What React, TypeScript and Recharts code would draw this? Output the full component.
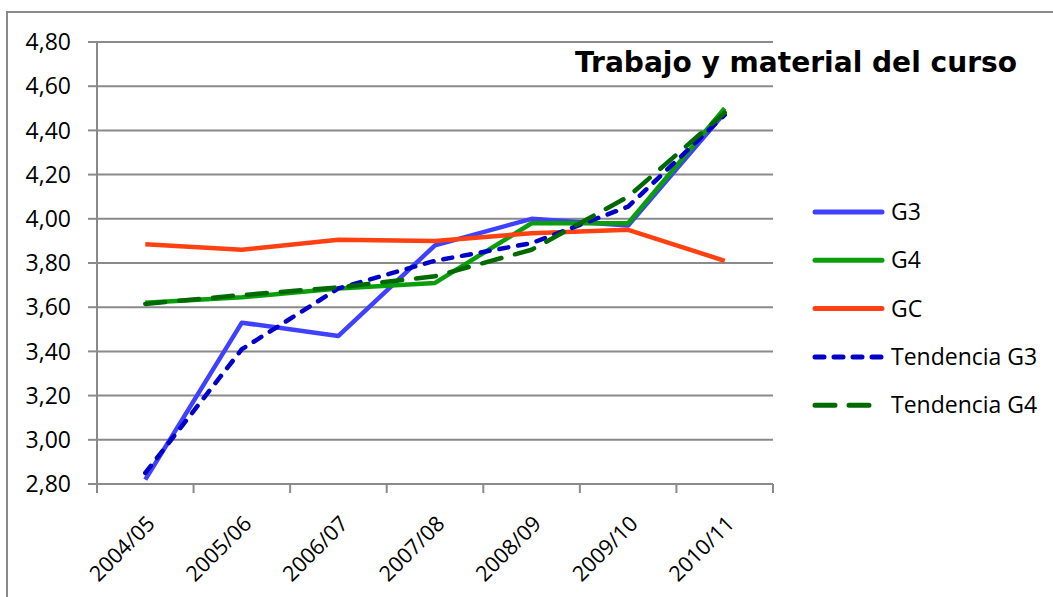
import React from 'react';
import {
  LineChart,
  Line,
  XAxis,
  YAxis,
  CartesianGrid,
  Legend,
} from 'recharts';

// cursos académicos (eje X)
const cursos = ['2004/05', '2005/06', '2006/07', '2007/08', '2008/09', '2009/10', '2010/11'];

// valores
const g3 = [2.82, 3.53, 3.47, 3.88, 4.0, 3.97, 4.48];
const g4 = [3.62, 3.645, 3.685, 3.71, 3.98, 3.98, 4.5];
const gc = [3.885, 3.86, 3.905, 3.9, 3.935, 3.95, 3.81];
const tendG3 = [2.85, 3.41, 3.685, 3.81, 3.89, 4.055, 4.47];
const tendG4 = [3.615, 3.655, 3.69, 3.74, 3.86, 4.1, 4.48];

const yTicks = [2.8, 3.0, 3.2, 3.4, 3.6, 3.8, 4.0, 4.2, 4.4, 4.6, 4.8];

// ticks del eje X: límites de categoría (x.5) + centros (enteros)
const xTicks = [-0.5, 0, 0.5, 1, 1.5, 2, 2.5, 3, 3.5, 4, 4.5, 5, 5.5, 6, 6.5];

const GRID = '#8a8a8a';
const FONT = '"Open Sans", "Noto Sans", sans-serif';

type Serie = { key: string; name: string; color: string; dash?: string; width: number };

const series: Serie[] = [
  { key: 'G3', name: 'G3', color: '#4040ff', width: 4.5 },
  { key: 'G4', name: 'G4', color: '#0a9e0a', width: 4.5 },
  { key: 'GC', name: 'GC', color: '#ff4010', width: 4.5 },
  { key: 'TG3', name: 'Tendencia G3', color: '#0000c8', width: 4.5, dash: '9 10' },
  { key: 'TG4', name: 'Tendencia G4', color: '#006a00', width: 4.5, dash: '20 14' },
];

const data = cursos.map((curso, i) => ({
  idx: i,
  curso,
  G3: g3[i],
  G4: g4[i],
  GC: gc[i],
  TG3: tendG3[i],
  TG4: tendG4[i],
}));

// "4,80" estilo decimal con coma
function formatComa(v: number) {
  return v.toFixed(2).replace('.', ',');
}

// tick del eje X: en los enteros va la etiqueta girada, en los x.5 la marca
function XTick(props: any) {
  const { x, y, payload } = props;
  const v = payload.value as number;
  if (!Number.isInteger(v)) {
    return <line x1={x} y1={y} x2={x} y2={y + 9} stroke={GRID} strokeWidth={2} />;
  }
  return (
    <g transform={`translate(${x + 11},${y + 41}) rotate(-45)`}>
      <text x={0} y={0} textAnchor="end" fontFamily={FONT} fontSize={21.5} fill="#000">
        {cursos[v]}
      </text>
    </g>
  );
}

function LegendBox() {
  return (
    <svg width={250} height={240}>
      {series.map((s, i) => {
        const cy = 24 + i * 48.3;
        return (
          <g key={s.key}>
            <line
              x1={7}
              y1={cy}
              x2={74}
              y2={cy}
              stroke={s.color}
              strokeWidth={5}
              strokeLinecap="round"
              strokeDasharray={s.dash}
            />
            <text x={83} y={cy + 8} fontFamily={FONT} fontSize={23} fill="#000">
              {s.name}
            </text>
          </g>
        );
      })}
    </svg>
  );
}

export default function App() {
  return (
    <div
      style={{
        position: 'fixed',
        left: 0,
        top: 0,
        width: 1053,
        height: 597,
        overflow: 'hidden',
        background: '#fff',
      }}
    >
      {/* borde del área del gráfico (sólo arriba e izquierda quedan a la vista) */}
      <div
        style={{
          position: 'absolute',
          left: 6,
          top: 11,
          width: 1100,
          height: 700,
          borderTop: `2px solid ${GRID}`,
          borderLeft: `2px solid ${GRID}`,
        }}
      />
      <div style={{ position: 'absolute', left: 0, top: 0 }}>
        <LineChart
          width={1053}
          height={597}
          data={data}
          margin={{ top: 42, right: 280, bottom: 0, left: 0 }}
        >
          <CartesianGrid vertical={false} stroke={GRID} strokeWidth={2} />
          <XAxis
            dataKey="idx"
            type="number"
            domain={[-0.5, 6.5]}
            ticks={xTicks}
            interval={0}
            height={113}
            tickSize={0}
            tickMargin={0}
            tickLine={false}
            axisLine={{ stroke: GRID, strokeWidth: 2 }}
            tick={<XTick />}
          />
          <YAxis
            domain={[2.8, 4.8]}
            ticks={yTicks}
            width={97}
            tickSize={9}
            tickMargin={17}
            tickFormatter={formatComa}
            tickLine={{ stroke: GRID, strokeWidth: 2 }}
            axisLine={{ stroke: GRID, strokeWidth: 2 }}
            tick={{ fill: '#000', fontSize: 23, fontFamily: FONT }}
          />
          <Legend
            layout="vertical"
            align="center"
            verticalAlign="middle"
            content={() => <LegendBox />}
            wrapperStyle={{ left: 808, top: 188, width: 250, height: 240 }}
          />
          {series.map((s) => (
            <Line
              key={s.key}
              type="linear"
              dataKey={s.key}
              name={s.name}
              stroke={s.color}
              strokeWidth={s.width}
              strokeDasharray={s.dash}
              strokeLinecap={s.dash ? 'round' : 'butt'}
              strokeLinejoin="round"
              dot={false}
              activeDot={false}
              isAnimationActive={false}
            />
          ))}
        </LineChart>
      </div>
      {/* título */}
      <svg
        width={1053}
        height={100}
        style={{ position: 'absolute', left: 0, top: 0, pointerEvents: 'none' }}
      >
        <text
          x={575}
          y={72}
          fontFamily='"DejaVu Sans", sans-serif'
          fontWeight="bold"
          fontSize={27.5}
          textLength={442}
          lengthAdjust="spacingAndGlyphs"
          fill="#000"
        >
          Trabajo y material del curso
        </text>
      </svg>
    </div>
  );
}
